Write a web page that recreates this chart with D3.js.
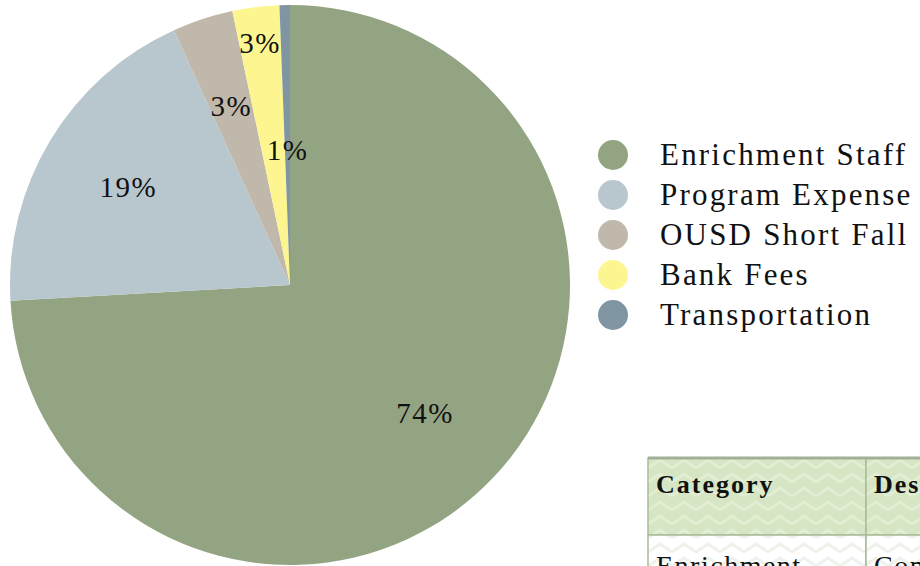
<!DOCTYPE html>
<html>
<head>
<meta charset="utf-8">
<script src="https://cdn.jsdelivr.net/npm/d3@7"></script>
<style>
  html, body { margin: 0; padding: 0; background: #fff; overflow: hidden; }
  svg { display: block; font-family: "Liberation Serif", "DejaVu Serif", serif; }
</style>
</head>
<body>
<div id="chart"></div>
<script>
const categories = ['Enrichment Staff', 'Program Expense', 'OUSD Short Fall', 'Bank Fees', 'Transportation'];
const values = [74.1, 19.1, 3.5, 2.7, 0.6];
const pctLabels = ['74%', '19%', '3%', '3%', '1%'];
const sliceColors = ['#93a482', '#b8c6ce', '#c0b8ab', '#fdf690', '#7f95a1'];
const tableHeaders = ['Category', 'Description'];
const tableFirstRow = ['Enrichment', 'Com'];

// label distance from centre (labels were nudged by hand in the original)
const labelRadius = [186, 189, 188, 244, 135];

const W = 920, H = 566;
const cx = 290, cy = 285, r = 280;

const svg = d3.select('#chart').append('svg')
    .attr('width', W)
    .attr('height', H);

const defs = svg.append('defs');

// chevron pattern used by the table cells
function chevron(id, bg, line) {
    const p = defs.append('pattern')
        .attr('id', id)
        .attr('patternUnits', 'userSpaceOnUse')
        .attr('width', 24)
        .attr('height', 14);
    p.append('rect').attr('width', 24).attr('height', 14).attr('fill', bg);
    p.append('path')
        .attr('d', 'M0,10 L12,2 L24,10 M0,24 L12,16 L24,24 M0,-4 L12,-12 L24,-4')
        .attr('fill', 'none')
        .attr('stroke', line)
        .attr('stroke-width', 3);
}
chevron('chevGreen', '#d6e6c4', '#e2eed4');
chevron('chevWhite', '#ffffff', '#eef2ea');

const pie = d3.pie().sort(null).value(d => d).startAngle(0).endAngle(2 * Math.PI);
const arc = d3.arc().innerRadius(0).outerRadius(r);
const arcs = pie(values);

const g = svg.append('g').attr('transform', `translate(${cx},${cy})`);

g.selectAll('path.slice')
    .data(arcs)
    .enter().append('path')
    .attr('class', 'slice')
    .attr('d', arc)
    .attr('fill', (d, i) => sliceColors[i]);

g.selectAll('text.pct')
    .data(arcs)
    .enter().append('text')
    .attr('class', 'pct')
    .attr('x', (d, i) => Math.sin((d.startAngle + d.endAngle) / 2) * labelRadius[i])
    .attr('y', (d, i) => -Math.cos((d.startAngle + d.endAngle) / 2) * labelRadius[i])
    .attr('text-anchor', 'middle')
    .attr('dominant-baseline', 'central')
    .style('font-size', '29px')
    .style('letter-spacing', '1.5px')
    .attr('fill', '#111')
    .text((d, i) => pctLabels[i]);

// legend
const legend = svg.selectAll('.legend')
    .data(categories)
    .enter().append('g')
    .attr('class', 'legend')
    .attr('transform', (d, i) => `translate(613,${155 + i * 40})`);

legend.append('circle')
    .attr('r', 15)
    .attr('fill', (d, i) => sliceColors[i]);

legend.append('text')
    .attr('x', 47)
    .attr('y', 10)
    .style('font-size', '31px')
    .style('letter-spacing', '2.2px')
    .attr('fill', '#111')
    .text(d => d);

// table fragment, bottom right
const tbl = svg.append('g').attr('transform', 'translate(648,458)');
const colX = [0, 218];
const colW = [218, 100];
const headH = 77;

tbl.selectAll('rect.head')
    .data(tableHeaders)
    .enter().append('rect')
    .attr('class', 'head')
    .attr('x', (d, i) => colX[i])
    .attr('y', 0)
    .attr('width', (d, i) => colW[i])
    .attr('height', headH)
    .attr('fill', 'url(#chevGreen)')
    .attr('stroke', '#a9bd98')
    .attr('stroke-width', 1.5);

tbl.selectAll('rect.row')
    .data(tableFirstRow)
    .enter().append('rect')
    .attr('class', 'row')
    .attr('x', (d, i) => colX[i])
    .attr('y', headH)
    .attr('width', (d, i) => colW[i])
    .attr('height', 60)
    .attr('fill', 'url(#chevWhite)')
    .attr('stroke', '#a9bd98')
    .attr('stroke-width', 1.5);

tbl.append('line')
    .attr('x1', 0).attr('x2', 300)
    .attr('y1', 0).attr('y2', 0)
    .attr('stroke', '#a3b097')
    .attr('stroke-width', 3);

tbl.selectAll('text.head')
    .data(tableHeaders)
    .enter().append('text')
    .attr('class', 'head')
    .attr('x', (d, i) => colX[i] + 8)
    .attr('y', 35)
    .style('font-size', '26px')
    .style('font-weight', 'bold')
    .style('letter-spacing', '2px')
    .attr('fill', '#111')
    .text(d => d);

tbl.selectAll('text.row')
    .data(tableFirstRow)
    .enter().append('text')
    .attr('class', 'row')
    .attr('x', (d, i) => colX[i] + 8)
    .attr('y', 117)
    .style('font-size', '28px')
    .style('letter-spacing', '1.5px')
    .attr('fill', '#111')
    .text(d => d);
</script>
</body>
</html>
